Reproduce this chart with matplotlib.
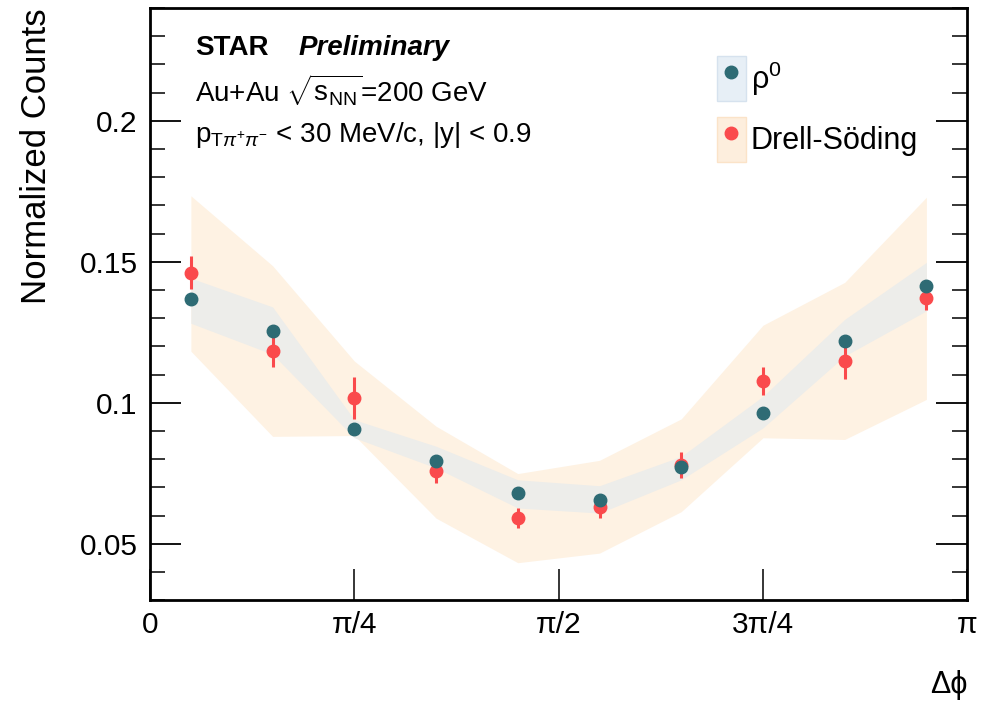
import numpy as np
import matplotlib
matplotlib.use("Agg")
import matplotlib.pyplot as plt
from matplotlib.patches import Patch
from matplotlib.lines import Line2D
from matplotlib.ticker import MultipleLocator

plt.rcParams['font.family'] = ['Liberation Sans', 'DejaVu Sans']
plt.rcParams['mathtext.fontset'] = 'custom'
plt.rcParams['mathtext.rm'] = 'Liberation Sans'
plt.rcParams['mathtext.it'] = 'Liberation Sans:italic'
plt.rcParams['mathtext.bf'] = 'Liberation Sans:bold'

# bin centers: 10 bins in [0, pi]
n_bins = 10
dphi = (np.arange(n_bins) + 0.5) * np.pi / n_bins

# rho0 data and systematic band
rho = [0.1367, 0.1255, 0.0907, 0.0792, 0.0679, 0.0656, 0.0772, 0.0964, 0.1220, 0.1415]
rho_err = [0.001, 0.001, 0.001, 0.001, 0.001, 0.001, 0.001, 0.001, 0.001, 0.001]
rho_sys_hi = [0.1442, 0.1340, 0.0940, 0.0846, 0.0727, 0.0706, 0.0810, 0.1023, 0.1296, 0.1498]
rho_sys_lo = [0.1282, 0.1172, 0.0876, 0.0769, 0.0627, 0.0609, 0.0727, 0.0911, 0.1166, 0.1326]

# Drell-Soding data and systematic band
ds = [0.1462, 0.1183, 0.1018, 0.0759, 0.0591, 0.0632, 0.0780, 0.1076, 0.1147, 0.1373]
ds_err = [0.0060, 0.0056, 0.0075, 0.0042, 0.0036, 0.0040, 0.0045, 0.0050, 0.0064, 0.0045]
ds_sys_hi = [0.1734, 0.1486, 0.1148, 0.0917, 0.0749, 0.0796, 0.0943, 0.1275, 0.1427, 0.1729]
ds_sys_lo = [0.1183, 0.0881, 0.0884, 0.0591, 0.0433, 0.0467, 0.0614, 0.0876, 0.0870, 0.1012]

xtick_vals = [0, np.pi / 4, np.pi / 2, 3 * np.pi / 4, np.pi]
xtick_labels = ['0', 'π/4', 'π/2', '3π/4', 'π']
ytick_vals = [0.05, 0.1, 0.15, 0.2]
ytick_labels = ['0.05', '0.1', '0.15', '0.2']

teal = '#2e6b74'
red = '#fa4a4c'
orange_band = '#fef2e3'
grey_band = '#ededea'

fig = plt.figure(figsize=(9.87, 7.02), dpi=100)
ax = fig.add_axes([0.152, 0.145, 0.828, 0.8436])

ax.fill_between(dphi, ds_sys_lo, ds_sys_hi, color=orange_band, lw=0, zorder=1)
ax.fill_between(dphi, rho_sys_lo, rho_sys_hi, color=grey_band, lw=0, zorder=2)

ax.errorbar(dphi, ds, yerr=ds_err, fmt='o', color=red, ms=9, elinewidth=2.2,
            capsize=0, zorder=4)
ax.errorbar(dphi, rho, yerr=rho_err, fmt='o', color=teal, ms=9, elinewidth=2,
            capsize=0, zorder=5)

ax.set_xlim(0, np.pi)
ax.set_ylim(0.03, 0.24)
ax.set_xticks(xtick_vals)
ax.set_xticklabels(xtick_labels, fontsize=21.5)
ax.set_yticks(ytick_vals)
ax.set_yticklabels(ytick_labels, fontsize=21.5)
ax.yaxis.set_minor_locator(MultipleLocator(0.01))
ax.tick_params(axis='y', which='major', direction='in', length=22, width=1.3,
               right=True, pad=9)
ax.tick_params(axis='y', which='minor', direction='in', length=11, width=1.1,
               right=True)
ax.tick_params(axis='x', which='major', direction='in', length=22, width=1.1,
               top=False, pad=8)
for s in ax.spines.values():
    s.set_linewidth(2)

ax.set_ylabel('Normalized Counts', fontsize=25, loc='top', labelpad=19)
ax.set_xlabel('Δϕ', fontsize=22, loc='right', labelpad=22)

ax.text(0.055, 0.933, r'STAR', transform=ax.transAxes, fontsize=20,
        fontweight='bold', va='center')
ax.text(0.182, 0.933, 'Preliminary', transform=ax.transAxes, fontsize=20,
        fontweight='bold', style='italic', va='center')
ax.text(0.055, 0.862, r'Au+Au $\sqrt{\mathrm{s}_{\mathrm{NN}}}$=200 GeV',
        transform=ax.transAxes, fontsize=20, va='center')
ax.text(0.055, 0.785, r'p$_{\mathrm{T}\pi^{+}\pi^{-}}$ < 30 MeV/c, |y| < 0.9',
        transform=ax.transAxes, fontsize=20, va='center')

h_rho = (Patch(facecolor='#e7eff6', edgecolor='#d6e2ee', lw=1),
         Line2D([], [], marker='o', color=teal, ls='none', ms=9))
h_ds = (Patch(facecolor='#fdeedd', edgecolor='#fbe3c8', lw=1),
        Line2D([], [], marker='o', color=red, ls='none', ms=9))
ax.legend([h_rho, h_ds], ['ρ$^{0}$', 'Drell-Söding'], loc='upper left',
          bbox_to_anchor=(0.66, 0.965), frameon=False, fontsize=22,
          handlelength=0.95, handleheight=1.9, handletextpad=0.15, labelspacing=0.5)

fig.savefig('out.png', dpi=100)
